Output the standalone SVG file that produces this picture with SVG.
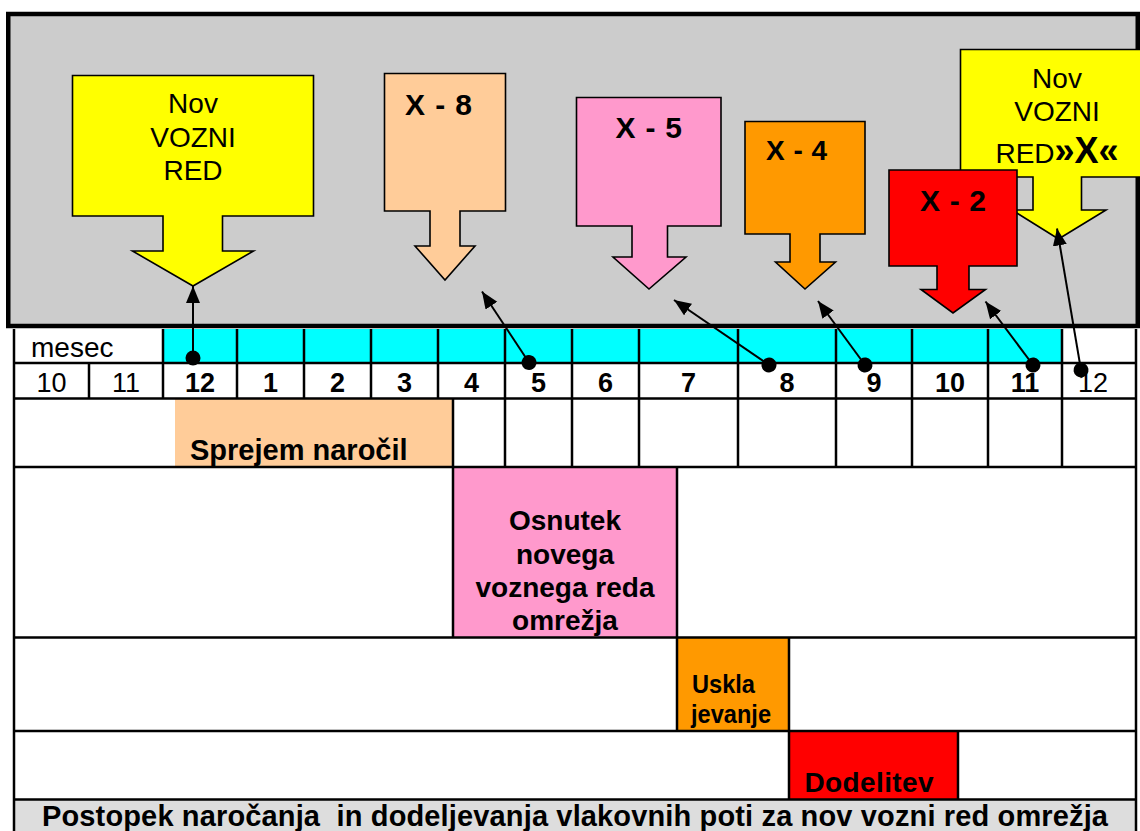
<svg xmlns="http://www.w3.org/2000/svg" width="1140" height="831" viewBox="0 0 1140 831">
<style>
text{font-family:"Liberation Sans",Arial,sans-serif;fill:#000}
.b{font-weight:bold}
.shape{stroke:#000;stroke-width:1.6;stroke-linejoin:miter}
.grid{stroke:#000;stroke-width:2.5;fill:none}
.con{stroke:#000;stroke-width:2;fill:none}
</style>
<defs>
<marker id="ah" markerUnits="userSpaceOnUse" markerWidth="19" markerHeight="15" refX="17" refY="7" orient="auto">
<path d="M0,0 L17,7 L0,14 Z" fill="#000"/>
</marker>
<marker id="dot" markerUnits="userSpaceOnUse" markerWidth="16" markerHeight="16" refX="8" refY="8" orient="auto">
<circle cx="8" cy="8" r="7.5" fill="#000"/>
</marker>
</defs>

<g id="panel">
<rect x="8.25" y="14" width="1129.5" height="312" fill="#CCCCCC" stroke="#000" stroke-width="4.5"/>
</g>

<g id="novvoznired">
<path class="shape" fill="#FFFF00" d="M72.5,75.5 H313.5 V216 H222.5 V251 H253.5 L193,286 L132.5,251 H163 V216 H72.5 Z"/>
<text x="193" y="113" font-size="28" text-anchor="middle">Nov</text>
<text x="193" y="147" font-size="28" text-anchor="middle">VOZNI</text>
<text x="193" y="180" font-size="28" text-anchor="middle">RED</text>
</g>

<g id="x8">
<path class="shape" fill="#FFCC99" d="M384.5,73.5 H505.5 V211 H460 V246 H475 L445,280 L415,246 H430 V211 H384.5 Z"/>
<text class="b" x="405" y="115" font-size="30" textLength="67">X - 8</text>
</g>

<g id="x5">
<path class="shape" fill="#FF99CC" d="M576.5,97.5 H721 V226 H667.5 V257 H686 L649,289 L613,257 H632 V226 H576.5 Z"/>
<text class="b" x="615.5" y="138" font-size="30" textLength="66.5">X - 5</text>
</g>

<g id="x4">
<path class="shape" fill="#FF9900" d="M745,121.5 H865 V234 H820 V262 H835.5 L805,289 L775.5,262 H790 V234 H745 Z"/>
<text class="b" x="766" y="160" font-size="28" textLength="61">X - 4</text>
</g>

<g id="novvozniredx">
<path class="shape" fill="#FFFF00" d="M960.5,49.5 H1142 V177 H1081.5 V210 H1106 L1058.5,239 L1012,210 H1033 V177 H960.5 Z"/>
<text x="1057" y="88" font-size="28" text-anchor="middle">Nov</text>
<text x="1057" y="121" font-size="28" text-anchor="middle">VOZNI</text>
<text x="1057" y="163" font-size="28" text-anchor="middle">RED<tspan class="b" font-size="36">»X«</tspan></text>
</g>

<g id="x2">
<path class="shape" fill="#FF0000" d="M889,170 H1017 V266 H969 V289.5 H985.5 L953,313 L921,289.5 H937 V266 H889 Z"/>
<text class="b" x="920" y="211" font-size="30" textLength="66">X - 2</text>
</g>

<g id="table">
<rect x="14" y="329" width="1122" height="502" fill="#FFFFFF"/>
<rect x="163" y="329" width="899" height="34" fill="#00FFFF"/>
<rect x="175" y="398.5" width="278" height="68.5" fill="#FFCC99"/>
<rect x="453" y="467" width="224" height="170.5" fill="#FF99CC"/>
<rect x="677" y="637.5" width="112" height="93.5" fill="#FF9900"/>
<rect x="789" y="731" width="169" height="68.5" fill="#FF0000"/>
<rect x="14" y="799.5" width="1122" height="32" fill="#DDDDDD"/>
<path class="grid" d="M14,329 V831 M1136,329 V831
M14,363 H1136 M14,398.5 H1136 M14,467 H1136 M14,637.5 H1136 M14,731 H1136 M14,799.5 H1136
M163,329 V398.5 M237,329 V398.5 M304,329 V398.5 M371,329 V398.5 M438,329 V398.5
M505,329 V467 M572,329 V467 M639,329 V467 M738,329 V467 M836,329 V467 M912,329 V467 M988,329 V467 M1062,329 V467
M89,363 V398.5 M453,398.5 V637.5 M677,467 V731 M789,637.5 V799.5 M958,731 V799.5"/>
<text x="31" y="357" font-size="28">mesec</text>
<g font-size="27" text-anchor="middle">
<text x="51.5" y="392">10</text>
<text x="126" y="392">11</text>
<text class="b" x="200" y="392">12</text>
<text class="b" x="270.5" y="392">1</text>
<text class="b" x="337.5" y="392">2</text>
<text class="b" x="404.5" y="392">3</text>
<text class="b" x="471.5" y="392">4</text>
<text class="b" x="538.5" y="392">5</text>
<text class="b" x="605.5" y="392">6</text>
<text class="b" x="688.5" y="392">7</text>
<text class="b" x="787" y="392">8</text>
<text class="b" x="874" y="392">9</text>
<text class="b" x="950" y="392">10</text>
<text class="b" x="1025" y="392">11</text>
<text x="1093" y="392">12</text>
</g>
<text class="b" x="190" y="460" font-size="29">Sprejem naročil</text>
<g class="b" font-size="28" text-anchor="middle">
<text x="565" y="530">Osnutek</text>
<text x="565" y="564">novega</text>
<text x="565" y="597">voznega reda</text>
<text x="565" y="630">omrežja</text>
</g>
<text class="b" x="692" y="693" font-size="26" textLength="63" lengthAdjust="spacingAndGlyphs">Uskla</text>
<text class="b" x="691" y="723" font-size="26" textLength="80" lengthAdjust="spacingAndGlyphs">jevanje</text>
<text class="b" x="804.5" y="792" font-size="28" textLength="129">Dodelitev</text>
<text class="b" x="42" y="826" font-size="29" textLength="1066" xml:space="preserve" style="white-space:pre">Postopek naročanja  in dodeljevanja vlakovnih poti za nov vozni red omrežja</text>
</g>

<g id="connectors">
<line class="con" x1="193" y1="358" x2="193" y2="286" marker-start="url(#dot)" marker-end="url(#ah)"/>
<line class="con" x1="529" y1="362.5" x2="482" y2="291.5" marker-start="url(#dot)" marker-end="url(#ah)"/>
<line class="con" x1="769" y1="365" x2="674" y2="300" marker-start="url(#dot)" marker-end="url(#ah)"/>
<line class="con" x1="865" y1="365" x2="818" y2="301" marker-start="url(#dot)" marker-end="url(#ah)"/>
<line class="con" x1="1033" y1="365" x2="985.5" y2="301.5" marker-start="url(#dot)" marker-end="url(#ah)"/>
<line class="con" x1="1081" y1="370" x2="1057" y2="228.5" marker-start="url(#dot)" marker-end="url(#ah)"/>
</g>
</svg>
